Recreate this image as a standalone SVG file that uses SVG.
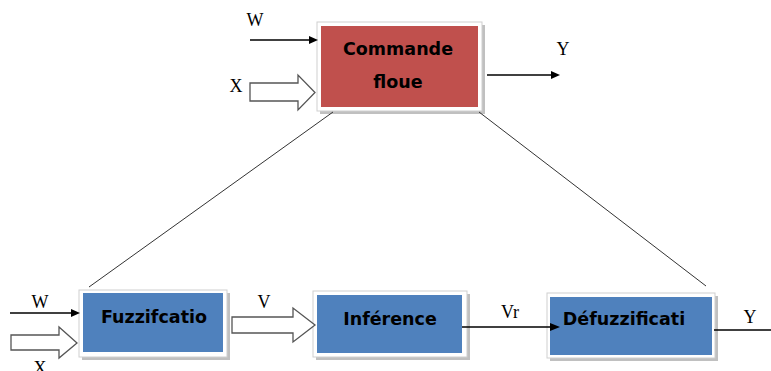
<svg xmlns="http://www.w3.org/2000/svg" width="771" height="371" viewBox="0 0 771 371">
  <style>
    .frame { fill: #ffffff; stroke: #cfcfcf; stroke-width: 1; }
    .shadow { fill: #8c8c8c; opacity: 0.55; }
    .red { fill: #c0504d; }
    .blue { fill: #4f81bd; }
    .title { font-family: "DejaVu Sans", sans-serif; font-weight: bold; font-size: 17.5px; fill: #000; text-anchor: middle; }
    .sig { font-family: "Liberation Serif", serif; font-size: 18px; fill: #000; text-anchor: middle; }
    .wire { stroke: #000; stroke-width: 1.4; fill: none; }
    .diag { stroke: #333; stroke-width: 1; fill: none; }
    .hollow { fill: #ffffff; stroke: #555; stroke-width: 1.3; stroke-linejoin: miter; }
    .head { fill: #000; }
  </style>

  <!-- controller block -->
  <g id="commande-floue">
    <rect class="shadow" x="320" y="25" width="165" height="89"/>
    <rect class="frame" x="317" y="22" width="165" height="89"/>
    <rect class="red" x="321" y="26" width="157" height="81"/>
    <text class="title" x="398" y="55">Commande</text>
    <text class="title" x="398" y="88">floue</text>
  </g>

  <g id="fuzzification">
    <rect class="shadow" x="82" y="293" width="148" height="67"/>
    <rect class="frame" x="79" y="290" width="148" height="67"/>
    <rect class="blue" x="83" y="293" width="140" height="59"/>
    <text class="title" x="154" y="323">Fuzzifcatio</text>
  </g>

  <g id="inference">
    <rect class="shadow" x="316" y="294" width="154" height="66"/>
    <rect class="frame" x="313" y="291" width="154" height="66"/>
    <rect class="blue" x="317" y="295" width="145" height="58"/>
    <text class="title" x="390" y="325">Inférence</text>
  </g>

  <g id="defuzzification">
    <rect class="shadow" x="550" y="296" width="168" height="65"/>
    <rect class="frame" x="547" y="293" width="168" height="65"/>
    <rect class="blue" x="550" y="297" width="162" height="58"/>
    <text class="title" x="624" y="325">Défuzzificati</text>
  </g>

  <!-- connectors, drawn above the blocks so arrow tips stay visible -->
  <g id="connectors">
    <!-- links from the controller block down to the detailed chain -->
    <line class="diag" x1="333" y1="112" x2="89" y2="287"/>
    <line class="diag" x1="479" y1="112" x2="706" y2="286"/>

    <!-- top: W input -->
    <line class="wire" x1="250" y1="40" x2="310" y2="40"/>
    <polygon class="head" points="318,40 309,36 309,44"/>
    <!-- top: X input (bus) -->
    <polygon class="hollow" points="250,83 298,83 298,75 315,92.5 298,110 298,101 250,101"/>
    <!-- top: Y output -->
    <line class="wire" x1="487" y1="75" x2="552" y2="75"/>
    <polygon class="head" points="560,75 551,71 551,79"/>

    <!-- bottom: W input -->
    <line class="wire" x1="10" y1="313" x2="72" y2="313"/>
    <polygon class="head" points="80,313 71,309 71,317"/>
    <!-- bottom: X input (bus) -->
    <polygon class="hollow" points="11,335 59,335 59,327 77,343 59,358 59,350 11,350"/>
    <!-- V bus -->
    <polygon class="hollow" points="232,317 293,317 293,308 315,325 293,342 293,333 232,333"/>
    <!-- Vr signal -->
    <line class="wire" x1="462" y1="327" x2="551" y2="327"/>
    <polygon class="head" points="560,327 550,323 550,331"/>
    <!-- Y output -->
    <line class="wire" x1="714" y1="330" x2="771" y2="330"/>
  </g>

  <!-- signal labels -->
  <g id="labels">
    <text class="sig" x="255" y="26">W</text>
    <text class="sig" x="236" y="92">X</text>
    <text class="sig" x="563" y="55">Y</text>
    <text class="sig" x="40" y="308">W</text>
    <text class="sig" x="40" y="374">X</text>
    <text class="sig" x="264" y="308">V</text>
    <text class="sig" x="510" y="318">Vr</text>
    <text class="sig" x="750" y="323">Y</text>
  </g>
</svg>
